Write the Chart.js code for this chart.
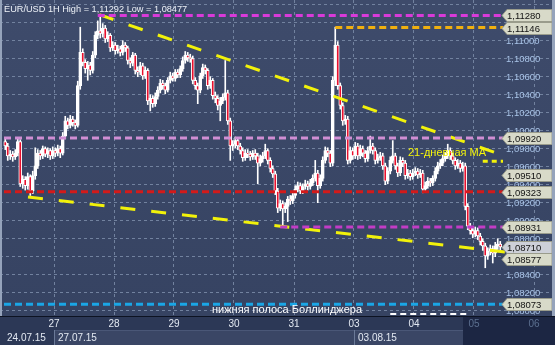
<!DOCTYPE html>
<html><head><meta charset="utf-8">
<script src="https://cdn.jsdelivr.net/npm/chart.js@4.4.1/dist/chart.umd.min.js"></script>
<style>html,body{margin:0;padding:0;background:#2b3755;overflow:hidden}canvas{display:block}</style>
</head><body>
<canvas id="c" width="555" height="345"></canvas>
<script>
// ---- data (EUR/USD 1H candles, index 0 = first candle on 24.07.15) ----
const openP = [
1.0988,1.0983,1.0972,1.0974,1.0971,1.0975,1.0988,1.0941,1.0946,1.0939,
1.0949,1.0933,1.0950,1.0961,1.0975,1.0972,1.0980,1.0974,1.0978,1.0972,
1.0978,1.0975,1.0980,1.0975,1.0994,1.1011,1.1006,1.1013,1.1009,1.1006,
1.1050,1.1087,1.1076,1.1069,1.1073,1.1067,1.1084,1.1106,1.1111,1.1108,
1.1114,1.1102,1.1106,1.1092,1.1095,1.1089,1.1091,1.1087,1.1095,1.1092,
1.1078,1.1075,1.1084,1.1067,1.1065,1.1072,1.1061,1.1067,1.1033,1.1036,
1.1030,1.1038,1.1045,1.1053,1.1050,1.1045,1.1056,1.1061,1.1058,1.1065,
1.1062,1.1069,1.1078,1.1084,1.1081,1.1080,1.1056,1.1050,1.1045,1.1061,
1.1070,1.1067,1.1050,1.1056,1.1039,1.1036,1.1028,1.1033,1.1037,1.1042,
1.1011,1.0983,1.0985,1.0989,1.0983,1.0978,1.0970,1.0975,1.0974,1.0971,
1.0975,1.0972,1.0964,1.0969,1.0972,1.0978,1.0967,1.0958,1.0952,1.0933,
1.0914,1.0919,1.0913,1.0916,1.0924,1.0922,1.0928,1.0935,1.0939,1.0933,
1.0938,1.0941,1.0938,1.0942,1.0947,1.0953,1.0939,1.0947,1.0967,1.0978,
1.0975,1.0964,1.1056,1.1095,1.1050,1.1028,1.1011,1.1013,1.0967,1.0978,
1.0972,1.0983,1.0972,1.0980,1.0975,1.0969,1.0978,1.0983,1.0978,1.0967,
1.0970,1.0972,1.0961,1.0944,1.0955,1.0967,1.0972,1.0961,1.0953,1.0967,
1.0964,1.0950,1.0953,1.0949,1.0953,1.0955,1.0951,1.0953,1.0935,1.0939,
1.0944,1.0942,1.0947,1.0955,1.0961,1.0964,1.0969,1.0972,1.0978,1.0972,
1.0967,1.0961,1.0964,1.0958,1.0961,1.0916,1.0894,1.0889,1.0885,1.0889,
1.0883,1.0877,1.0872,1.0861,1.0866,1.0869,1.0864,1.0872,1.0874];
const highP = [
1.0992,1.0986,1.0978,1.0977,1.0979,1.0991,1.0990,1.0950,1.0949,1.0953,
1.0951,1.0955,1.0981,1.0979,1.0978,1.0983,1.0982,1.0981,1.0980,1.0982,
1.0981,1.0984,1.0983,1.0998,1.1016,1.1014,1.1017,1.1016,1.1012,1.1055,
1.1115,1.1091,1.1079,1.1077,1.1076,1.1088,1.1110,1.1122,1.11292,1.1119,
1.1117,1.1110,1.1108,1.1099,1.1098,1.1095,1.1094,1.1100,1.1098,1.1094,
1.1081,1.1087,1.1086,1.1071,1.1076,1.1075,1.1071,1.1069,1.1040,1.1039,
1.1042,1.1049,1.1057,1.1056,1.1053,1.1059,1.1065,1.1064,1.1068,1.1068,
1.1072,1.1082,1.1088,1.1087,1.1085,1.1083,1.1059,1.1053,1.1064,1.1074,
1.1073,1.1069,1.1060,1.1058,1.1043,1.1039,1.1037,1.1041,1.1078,1.1045,
1.1014,1.0989,1.0993,1.0992,1.0986,1.0981,1.0979,1.0979,1.0977,1.0978,
1.0979,1.0975,1.0973,1.0976,1.0985,1.0980,1.0970,1.0961,1.0955,1.0936,
1.0923,1.0922,1.0920,1.0927,1.0928,1.0932,1.0939,1.0943,1.0942,1.0941,
1.0945,1.0944,1.0946,1.0951,1.0967,1.0956,1.0951,1.0971,1.0982,1.0981,
1.0978,1.1060,1.1115,1.1099,1.1053,1.1031,1.1017,1.1016,1.0982,1.0981,
1.0987,1.0986,1.0984,1.0983,1.0978,1.0982,1.0994,1.0986,1.0981,1.0974,
1.0976,1.0975,1.0964,1.0959,1.0971,1.0989,1.0975,1.0964,1.0971,1.0970,
1.0967,1.0957,1.0956,1.0957,1.0959,1.0958,1.0957,1.0956,1.0943,1.0948,
1.0947,1.0950,1.0959,1.0965,1.0968,1.0973,1.0976,1.0985,1.0981,1.0975,
1.0970,1.0968,1.0967,1.0965,1.0964,1.0919,1.0897,1.0892,1.0893,1.0892,
1.0886,1.0880,1.0875,1.0870,1.0873,1.0872,1.0876,1.0880,1.0877];
const lowP = [
1.0979,1.0967,1.0968,1.0966,1.0968,1.0972,1.0938,1.0936,1.0934,1.0935,
1.0928,1.0930,1.0946,1.0958,1.0968,1.0969,1.0971,1.0970,1.0968,1.0969,
1.0971,1.0972,1.0970,1.0973,1.0991,1.1002,1.1003,1.1005,1.1002,1.1004,
1.1046,1.1072,1.1064,1.1056,1.1062,1.1064,1.1081,1.1102,1.1103,1.1104,
1.1098,1.1099,1.1088,1.1089,1.1085,1.1086,1.1083,1.1084,1.1088,1.1074,
1.1070,1.1072,1.1063,1.1060,1.1062,1.1057,1.1058,1.1029,1.1022,1.1026,
1.1027,1.1035,1.1042,1.1046,1.1041,1.1043,1.1053,1.1055,1.1055,1.1059,
1.1059,1.1066,1.1075,1.1077,1.1076,1.1052,1.1046,1.1030,1.1042,1.1058,
1.1063,1.1046,1.1047,1.1035,1.1031,1.1023,1.1011,1.1030,1.1034,1.1007,
1.0967,1.0978,1.0981,1.0979,1.0974,1.0966,1.0967,1.0970,1.0967,1.0968,
1.0968,1.0941,1.0961,1.0965,1.0969,1.0963,1.0954,1.0948,1.0929,1.0909,
1.0911,1.0894,1.0909,1.0899,1.0918,1.0919,1.0925,1.0932,1.0930,1.0930,
1.0935,1.0934,1.0935,1.0939,1.0944,1.0920,1.0936,1.0944,1.0964,1.0971,
1.0960,1.0961,1.1050,1.1046,1.1024,1.1006,1.1007,1.0963,1.0964,1.0968,
1.0969,1.0968,1.0969,1.0971,1.0965,1.0966,1.0975,1.0974,1.0963,1.0964,
1.0967,1.0957,1.0940,1.0941,1.0952,1.0964,1.0957,1.0949,1.0950,1.0960,
1.0946,1.0947,1.0945,1.0946,1.0950,1.0947,1.0948,1.0931,1.0932,1.0936,
1.0938,1.0939,1.0944,1.0952,1.0958,1.0961,1.0966,1.0969,1.0968,1.0963,
1.0957,1.0958,1.0954,1.0955,1.0912,1.0890,1.0885,1.0881,1.0882,1.0879,
1.0873,1.0867,1.08477,1.0857,1.0862,1.0853,1.0860,1.0868,1.0867];
const closeP = [
1.0983,1.0972,1.0974,1.0971,1.0975,1.0988,1.0941,1.0946,1.0939,1.0949,
1.0933,1.0950,1.0961,1.0975,1.0972,1.0980,1.0974,1.0978,1.0972,1.0978,
1.0975,1.0980,1.0975,1.0994,1.1011,1.1006,1.1013,1.1009,1.1006,1.1050,
1.1087,1.1076,1.1069,1.1073,1.1067,1.1084,1.1106,1.1111,1.1108,1.1114,
1.1102,1.1106,1.1092,1.1095,1.1089,1.1091,1.1087,1.1095,1.1092,1.1078,
1.1075,1.1084,1.1067,1.1065,1.1072,1.1061,1.1067,1.1033,1.1036,1.1030,
1.1038,1.1045,1.1053,1.1050,1.1045,1.1056,1.1061,1.1058,1.1065,1.1062,
1.1069,1.1078,1.1084,1.1081,1.1080,1.1056,1.1050,1.1045,1.1061,1.1070,
1.1067,1.1050,1.1056,1.1039,1.1036,1.1028,1.1033,1.1037,1.1042,1.1011,
1.0983,1.0985,1.0989,1.0983,1.0978,1.0970,1.0975,1.0974,1.0971,1.0975,
1.0972,1.0964,1.0969,1.0972,1.0978,1.0967,1.0958,1.0952,1.0933,1.0914,
1.0919,1.0913,1.0916,1.0924,1.0922,1.0928,1.0935,1.0939,1.0933,1.0938,
1.0941,1.0938,1.0942,1.0947,1.0953,1.0939,1.0947,1.0967,1.0978,1.0975,
1.0964,1.1056,1.1095,1.1050,1.1028,1.1011,1.1013,1.0967,1.0978,1.0972,
1.0983,1.0972,1.0980,1.0975,1.0969,1.0978,1.0983,1.0978,1.0967,1.0970,
1.0972,1.0961,1.0944,1.0955,1.0967,1.0972,1.0961,1.0953,1.0967,1.0964,
1.0950,1.0953,1.0949,1.0953,1.0955,1.0951,1.0953,1.0935,1.0939,1.0944,
1.0942,1.0947,1.0955,1.0961,1.0964,1.0969,1.0972,1.0978,1.0972,1.0967,
1.0961,1.0964,1.0958,1.0961,1.0916,1.0894,1.0889,1.0885,1.0889,1.0883,
1.0877,1.0872,1.0861,1.0866,1.0869,1.0864,1.0872,1.0874,1.0871];

// x axis: candle index; day boundaries and labels
const dayTicks  = [19.5, 43.5, 67.5, 91.5, 115.5, 139.5, 163.5, 187.5, 211.5];
const dayLabels = ['27', '28', '29', '30', '31', '03', '04', '05', '06'];
const weekStarts = [-0.9, 19.5, 139.5];
const weekLabels = ['24.07.15', '27.07.15', '03.08.15'];

// y axis price ticks (grid) and the ones that carry a label
const priceTicks = [1.080,1.082,1.084,1.086,1.088,1.090,1.092,1.094,1.096,1.098,1.100,1.102,1.104,1.106,1.108,1.110,1.112,1.114];
const priceLabels = [1.080,1.082,1.084,1.086,1.088,1.090,1.092,1.094,1.096,1.098,1.100,1.102,1.104,1.106,1.108,1.110,1.112];

// price tags on the right
const tagValues = [1.11280, 1.11146, 1.09920, 1.09510, 1.09323, 1.08931, 1.08710, 1.08577, 1.08073];

// horizontal levels: value, starting candle index
const levelValues = [1.11280, 1.11146, 1.09920, 1.09323, 1.08931, 1.08073];
const levelStarts = [37.0, 132.0, -0.5, -0.5, 110.0, -0.5];
const levelEnd = 199.1;

// trend lines (candle index, price)
const upperTrendX = [37.6, 199.9];
const upperTrendY = [1.11290, 1.09719];
const lowerTrendX = [9.1, 199.9];
const lowerTrendY = [1.09263, 1.08652];
// 21-day MA marker and lower Bollinger band fragment
const maX = [191.0, 199.1];
const maY = [1.09660, 1.09660];
const bbX = [154.0, 186.0];
const bbY = [1.07962, 1.07962];

const title = 'EUR/USD 1H High = 1,11292 Low = 1,08477';
const maText = '21-дневная MA';
const bbText = 'нижняя полоса Боллинджера';

// ---- styles ----
const levelColors = ['#d93ad9', '#f0b010', '#d08ed4', '#d41a1a', '#c23cc6', '#1aa6e6'];
const FONT = 'Liberation Sans, Arial, sans-serif';

const idx = closeP.map((_, i) => i);
const datasets = [];

levelValues.forEach((v, k) => {
  datasets.push({
    type: 'line', order: 0,
    data: [{x: levelStarts[k], y: v}, {x: levelEnd, y: v}],
    borderColor: levelColors[k], borderWidth: 3, borderDash: [7, 4],
    pointRadius: 0, fill: false
  });
});
datasets.push({type: 'line', order: 0,
  data: upperTrendX.map((x, k) => ({x, y: upperTrendY[k]})),
  borderColor: '#f2f20a', borderWidth: 3, borderDash: [15, 16], pointRadius: 0, fill: false});
datasets.push({type: 'line', order: 0,
  data: lowerTrendX.map((x, k) => ({x, y: lowerTrendY[k]})),
  borderColor: '#f2f20a', borderWidth: 3, borderDash: [15, 16], pointRadius: 0, fill: false});
datasets.push({type: 'line', order: 0,
  data: maX.map((x, k) => ({x, y: maY[k]})),
  borderColor: '#f2f20a', borderWidth: 3, borderDash: [5, 4], pointRadius: 0, fill: false});
datasets.push({type: 'line', order: 0,
  data: bbX.map((x, k) => ({x, y: bbY[k]})),
  borderColor: '#ffffff', borderWidth: 2, borderDash: [6, 4], pointRadius: 0, fill: false});

// candle bodies
datasets.push({
  type: 'bar', order: 1, grouped: false,
  data: idx.map(i => ({x: i, y: [openP[i], closeP[i]]})),
  backgroundColor: c => (closeP[c.dataIndex] < openP[c.dataIndex] ? '#e8102e' : '#ffffff'),
  borderColor: '#ffffff', borderWidth: 1, borderSkipped: false,
  barThickness: 3, minBarLength: 1
});
// candle wicks
datasets.push({
  type: 'bar', order: 2, grouped: false,
  data: idx.map(i => ({x: i, y: [lowP[i], highP[i]]})),
  backgroundColor: '#ffffff', borderWidth: 0, barThickness: 1
});

const decor = {
  id: 'decor',
  beforeDraw(chart) {
    const {ctx, chartArea: a} = chart;
    ctx.save();
    ctx.fillStyle = '#2c3856';
    ctx.fillRect(0, 0, 555, 345);
    const g = ctx.createLinearGradient(0, a.top, 0, a.bottom);
    g.addColorStop(0, '#3e4b6b');
    g.addColorStop(1, '#364362');
    ctx.fillStyle = g;
    ctx.fillRect(a.left, a.top, a.right - a.left, a.bottom - a.top);
    const xs = chart.scales.x;
    const w0 = xs.getPixelForValue(weekStarts[1]);
    ctx.fillStyle = '#3a4665';
    ctx.fillRect(w0, a.bottom + 15, 555 - w0, 14);
    ctx.fillStyle = '#4a5777';
    ctx.fillRect(w0, a.bottom + 14, 555 - w0, 1);
    const fx = xs.getPixelForValue(183.1);
    ctx.fillStyle = '#1c2643';
    ctx.fillRect(fx, a.bottom, 555 - fx, 29);
    ctx.fillStyle = '#0d1322';
    ctx.fillRect(0, a.bottom, 555, 1);
    ctx.restore();
  },
  afterDraw(chart) {
    const {ctx, chartArea: a} = chart;
    const xs = chart.scales.x, ys = chart.scales.y;
    ctx.save();
    ctx.font = '9.5px ' + FONT;
    ctx.textBaseline = 'middle';
    ctx.textAlign = 'left';
    ctx.fillStyle = '#a9c4e8';
    priceLabels.forEach(v => {
      ctx.fillText(v.toFixed(5).replace('.', ','), 506, Math.round(ys.getPixelForValue(v)) + 0.5);
    });
    tagValues.forEach(v => {
      const y = Math.round(ys.getPixelForValue(v)) + 0.5;
      ctx.beginPath();
      ctx.moveTo(502, y);
      ctx.lineTo(507, y - 6);
      ctx.lineTo(552, y - 6);
      ctx.lineTo(552, y + 6);
      ctx.lineTo(507, y + 6);
      ctx.closePath();
      ctx.fillStyle = v === 1.08710 ? '#cdd0d8' : '#d8dac9';
      ctx.fill();
      ctx.strokeStyle = '#9a9c8c';
      ctx.lineWidth = 1;
      ctx.stroke();
      ctx.fillStyle = '#111111';
      ctx.fillText(v.toFixed(5).replace('.', ','), 507, y + 0.5);
    });
    ctx.font = '9.2px ' + FONT;
    ctx.fillStyle = '#eef2f8';
    ctx.textBaseline = 'alphabetic';
    ctx.fillText(title, 4, 12);
    ctx.font = '11px ' + FONT;
    ctx.fillStyle = '#f4f40c';
    ctx.fillText(maText, 408, 156);
    ctx.font = '11px ' + FONT;
    ctx.fillStyle = '#ffffff';
    ctx.fillText(bbText, 212, 313);
    ctx.font = '10px ' + FONT;
    ctx.textBaseline = 'middle';
    weekStarts.forEach((w, k) => {
      const px = xs.getPixelForValue(w);
      if (k > 0) {
        ctx.fillStyle = '#6b7a98';
        ctx.fillRect(Math.round(px), a.bottom + 14, 1, 15);
      }
      ctx.fillStyle = '#e3e9f2';
      ctx.fillText(weekLabels[k], px + 4, a.bottom + 22);
    });
    ctx.fillStyle = '#95a3bb';
    ctx.fillRect(0, 0, 2, a.bottom);
    ctx.fillRect(552, 0, 3, a.bottom);
    ctx.restore();
  }
};

Chart.defaults.font.family = FONT;
new Chart(document.getElementById('c'), {
  type: 'bar',
  data: {datasets},
  options: {
    responsive: false, animation: false, devicePixelRatio: 1,
    layout: {padding: 0},
    plugins: {legend: {display: false}, tooltip: {enabled: false}},
    scales: {
      x: {
        type: 'linear', min: -2.1, max: 219.9, offset: false,
        afterBuildTicks: s => { s.ticks = dayTicks.map(v => ({value: v})); },
        afterFit: s => { s.height = 29; },
        ticks: {
          autoSkip: false, maxRotation: 0, padding: 2,
          font: {size: 10},
          color: c => (c.index >= 7 ? '#5c7090' : '#e3e9f2'),
          callback: (v, i) => dayLabels[i]
        },
        grid: {color: '#72829f', lineWidth: 1, drawTicks: false, offset: false},
        border: {display: false, dash: [3, 3]}
      },
      y: {
        type: 'linear', position: 'right', min: 1.079411, max: 1.114522,
        afterBuildTicks: s => { s.ticks = priceTicks.map(v => ({value: v})); },
        afterFit: s => { s.width = 0; },
        ticks: {display: false},
        grid: {color: '#72829f', lineWidth: 1, drawTicks: false},
        border: {display: false, dash: [3, 3]}
      }
    }
  },
  plugins: [decor]
});
</script>
</body></html>
